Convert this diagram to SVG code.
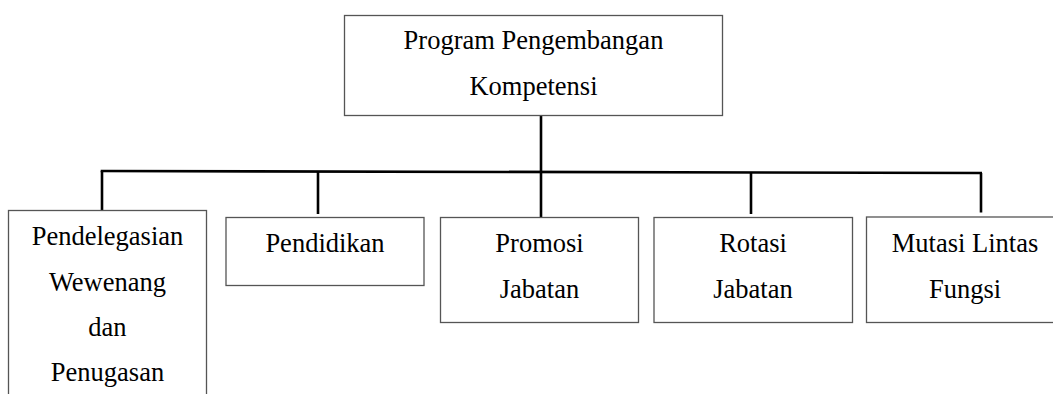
<svg xmlns="http://www.w3.org/2000/svg" width="1053" height="394" viewBox="0 0 1053 394">
<style>
.box{fill:#fff;stroke:#555;stroke-width:1.3}
.t{font-family:'Liberation Serif','DejaVu Serif',serif;font-size:26.5px;fill:#000;text-anchor:middle}
.c{stroke:#000;stroke-width:2.6;fill:none}
</style>
<rect width="1053" height="394" fill="#fff"/>
<g id="connectors">
<line class="c" x1="541" y1="115" x2="541" y2="217.5"/>
<line class="c" x1="100.7" y1="171" x2="982" y2="173"/>
<line class="c" x1="102" y1="171" x2="102" y2="210.5"/>
<line class="c" x1="318" y1="171.5" x2="318" y2="214"/>
<line class="c" x1="751" y1="172.5" x2="751" y2="214"/>
<line class="c" x1="981" y1="173" x2="981" y2="212.5"/>
</g>
<g id="root">
<rect class="box" x="344.5" y="15.5" width="378" height="100"/>
<text class="t" font-family="Liberation Serif" x="533.5" y="49">Program Pengembangan</text>
<text class="t" font-family="Liberation Serif" x="533.5" y="95">Kompetensi</text>
</g>
<g id="pendelegasian">
<rect class="box" x="8.5" y="210.5" width="198" height="200"/>
<text class="t" x="107.5" y="245">Pendelegasian</text>
<text class="t" x="107.5" y="290.5">Wewenang</text>
<text class="t" x="107.5" y="335.5">dan</text>
<text class="t" x="107.5" y="380.5">Penugasan</text>
</g>
<g id="pendidikan">
<rect class="box" x="226" y="217.5" width="198" height="68"/>
<text class="t" x="325" y="251.7">Pendidikan</text>
</g>
<g id="promosi">
<rect class="box" x="440.5" y="217.5" width="198" height="105"/>
<text class="t" x="539.5" y="252">Promosi</text>
<text class="t" x="539.5" y="298">Jabatan</text>
</g>
<g id="rotasi">
<rect class="box" x="654" y="217.5" width="198.5" height="105"/>
<text class="t" x="753" y="251.7">Rotasi</text>
<text class="t" x="753" y="297.5">Jabatan</text>
</g>
<g id="mutasi">
<rect class="box" x="866.5" y="217" width="197" height="105.5"/>
<text class="t" x="965" y="251.7">Mutasi Lintas</text>
<text class="t" x="965" y="297.5">Fungsi</text>
</g>
</svg>
